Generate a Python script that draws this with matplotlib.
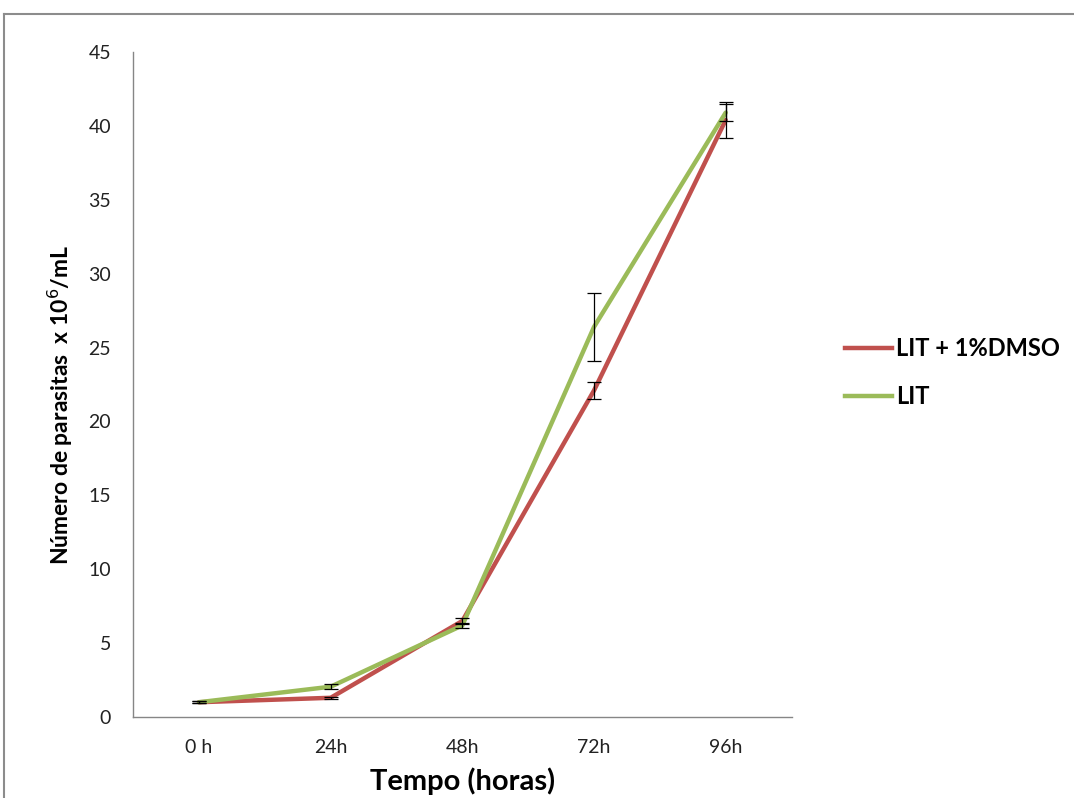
import matplotlib
matplotlib.use("Agg")
import matplotlib.pyplot as plt
from matplotlib.lines import Line2D

plt.rcParams["font.family"] = ["Lato", "DejaVu Sans"]

# --- Data -------------------------------------------------------------------
hours = ["0 h", "24h", "48h", "72h", "96h"]
dmso = [1.0, 1.3, 6.5, 22.1, 40.4]
dmso_err = [0.05, 0.05, 0.2, 0.55, 1.2]
lit = [1.0, 2.05, 6.2, 26.4, 40.9]
lit_err = [0.05, 0.15, 0.15, 2.3, 0.6]
series_names = ["LIT + 1%DMSO", "LIT"]
colors = ["#C0504D", "#9BBB59"]

fig = plt.figure(figsize=(10.74, 7.98), dpi=100)
ax = fig.add_axes([0.124, 0.1015, 0.613, 0.8333])

x = list(range(len(hours)))
for vals, errs, col in [(dmso, dmso_err, colors[0]), (lit, lit_err, colors[1])]:
    ax.plot(x, vals, color=col, lw=3.2, solid_capstyle="round", zorder=3)
    ax.errorbar(x, vals, yerr=errs, fmt="none", ecolor="black", elinewidth=0.9,
                capsize=5, capthick=0.9, zorder=4)

ax.set_xlim(-0.5, len(hours) - 0.5)
ax.set_ylim(0, 45)
ax.set_yticks(range(0, 46, 5))
ax.set_xticks(x)
ax.set_xticklabels(hours)
ax.tick_params(axis="both", length=0, labelsize=14, colors="#222222", pad=16)
ax.tick_params(axis="x", pad=16)
for s in ["top", "right"]:
    ax.spines[s].set_visible(False)
for s in ["left", "bottom"]:
    ax.spines[s].set_color("#868686")
    ax.spines[s].set_linewidth(1.0)

ax.set_ylabel(r"Número de parasitas  x 10$^{6}$/mL", fontsize=16.5, fontweight="bold")
ax.yaxis.set_label_coords(-0.088, 0.47)
ax.set_xlabel("Tempo (horas)", fontsize=21, fontweight="bold", labelpad=8)

handles = [Line2D([], [], color=c, lw=3.2) for c in colors]
leg = fig.legend(handles, series_names, loc="center left",
                 bbox_to_anchor=(0.787, 0.533), frameon=False, borderpad=0,
                 borderaxespad=0, prop={"size": 17, "weight": "bold"},
                 handlelength=2.0, handletextpad=0.15, labelspacing=1.05)

# chart-area border (top and left edges are visible in the reference)
fig.add_artist(Line2D([0.004, 1.0], [1 - 14 / 798] * 2, color="#8c8c8c", lw=1.5,
                      transform=fig.transFigure))
fig.add_artist(Line2D([0.004, 0.004], [0, 1 - 14 / 798], color="#8c8c8c", lw=1.5,
                      transform=fig.transFigure))

fig.savefig("out.png", dpi=100)
